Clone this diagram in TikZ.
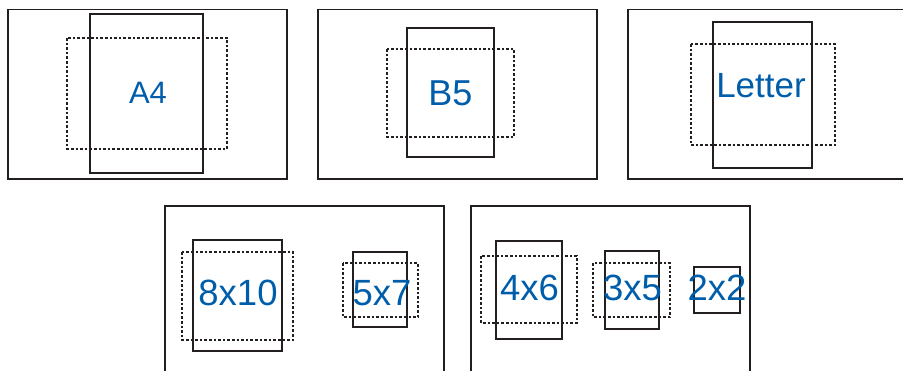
\documentclass[tikz,border=0pt]{standalone}
\usepackage{fontspec}
\setmainfont{Liberation Sans}
\definecolor{lbl}{RGB}{0,93,170}
\definecolor{ln}{RGB}{35,31,32}
\begin{document}
\begin{tikzpicture}[x=1pt,y=-1pt,
  frame/.style={draw=ln,line width=1.1pt},
  solidbox/.style={draw=ln,line width=1.2pt,inner sep=0pt,outer sep=0pt},
  dashbox/.style={draw=ln,line width=1.1pt,dash pattern=on 2.6pt off 2pt,inner sep=0pt,outer sep=0pt},
  lab/.style={text=lbl,anchor=base,inner sep=0pt,font=\fontsize{36.5}{36.5}\selectfont}]
\useasboundingbox (0,0) rectangle (903,371);
% frames
\draw[frame] (8,9.5) rectangle (287,179);
\draw[frame] (318,9.5) rectangle (597,179);
\draw[frame] (628,9.5) rectangle (907,179);
\draw[frame] (165,206) rectangle (444,380);
\draw[frame] (471,206) rectangle (750,380);
% A4
\draw[dashbox] (67,38) rectangle (227,149);
\draw[solidbox] (90,14) rectangle (203,173);
\node[lab,font=\fontsize{31}{31}\selectfont] (a4) at (148,104) {A4};
% B5
\draw[dashbox] (387,49) rectangle (514,137);
\draw[solidbox] (407,28) rectangle (494,157);
\node[lab,font=\fontsize{36}{36}\selectfont] (b5) at (450.5,106) {B5};
% Letter
\draw[dashbox] (691,44) rectangle (835,145);
\draw[solidbox] (713,22) rectangle (812,168);
\node[lab,font=\fontsize{35}{35}\selectfont] (letter) at (761,98) {Letter};
% 8x10
\draw[dashbox] (182,252) rectangle (293,340);
\draw[solidbox] (193,240) rectangle (282,351);
\node[lab] (e10) at (238,306) {8x10};
% 5x7
\draw[dashbox] (343,263) rectangle (418,317);
\draw[solidbox] (353,252) rectangle (407,327);
\node[lab] (f7) at (382,306) {5x7};
% 4x6
\draw[dashbox] (481,256) rectangle (577,323);
\draw[solidbox] (496,241) rectangle (562,339);
\node[lab] (f6) at (529.5,301) {4x6};
% 3x5
\draw[dashbox] (593,263) rectangle (670,317);
\draw[solidbox] (605,251) rectangle (659,329);
\node[lab] (t5) at (632.5,301) {3x5};
% 2x2
\draw[solidbox] (694,267) rectangle (740,313);
\node[lab] (t2) at (717,301) {2x2};
\end{tikzpicture}
\end{document}
